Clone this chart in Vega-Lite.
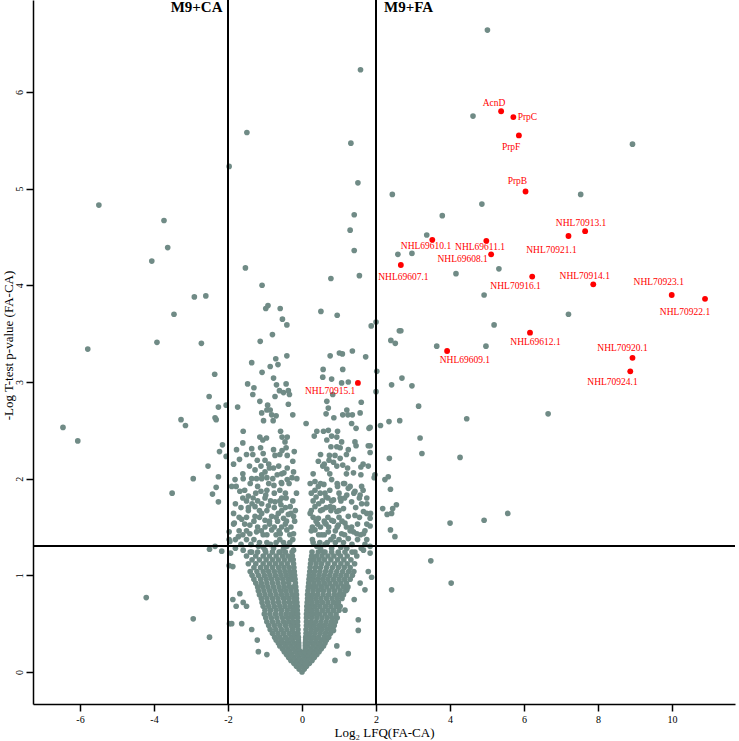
{
"$schema":"https://vega.github.io/schema/vega-lite/v6.json",
"width":702,"height":704,
"autosize":{"type":"none"},
"padding":{"left":33,"top":0,"right":4,"bottom":37},
"background":"white",
"config":{"view":{"stroke":null},
"axis":{"grid":false,"domainColor":"black","domainWidth":1.5,"tickColor":"black","tickWidth":1.5,"tickSize":7,"labelFont":"Liberation Serif","labelFontSize":10,"labelColor":"black","titleFont":"Liberation Serif","titleFontSize":13,"titleFontWeight":"normal","titleColor":"black"}},
"data":{"values":[
{"x":-5.49,"y":4.83},{"x":-3.73,"y":4.67},{"x":-3.63,"y":4.39},{"x":-4.06,"y":4.25},{"x":-2.91,"y":3.88},{"x":-2.6,"y":3.89},{"x":-3.46,"y":3.7},{"x":-5.79,"y":3.34},{"x":-3.92,"y":3.41},{"x":-2.72,"y":3.4},{"x":-2.36,"y":3.08},{"x":-2.51,"y":2.85},{"x":-2.26,"y":2.74},{"x":-2.05,"y":2.76},{"x":-3.27,"y":2.61},{"x":-3.15,"y":2.55},{"x":-2.35,"y":2.63},{"x":-2.32,"y":2.61},{"x":-6.46,"y":2.53},{"x":-6.06,"y":2.39},{"x":-2.15,"y":2.35},{"x":-2.23,"y":2.28},{"x":-2.05,"y":2.23},{"x":-2.54,"y":2.13},{"x":-2.94,"y":2.0},{"x":-2.26,"y":2.02},{"x":-2.32,"y":1.91},{"x":-2.42,"y":1.84},{"x":-3.51,"y":1.85},{"x":-2.26,"y":1.76},{"x":-2.35,"y":1.3},{"x":-2.5,"y":1.27},{"x":-2.17,"y":1.25},{"x":-4.21,"y":0.77},{"x":-2.94,"y":0.55},{"x":-2.5,"y":0.36},{"x":-1.97,"y":5.23},{"x":-1.97,"y":1.45},{"x":-1.97,"y":1.37},{"x":-1.97,"y":1.1},{"x":-1.96,"y":0.5},
{"x":1.58,"y":6.23},{"x":-1.49,"y":5.58},{"x":1.32,"y":5.47},{"x":1.51,"y":5.06},{"x":2.44,"y":4.94},{"x":1.41,"y":4.73},{"x":1.3,"y":4.57},{"x":1.41,"y":4.36},{"x":2.59,"y":4.32},{"x":-1.53,"y":4.18},{"x":1.55,"y":4.1},{"x":0.78,"y":4.07},{"x":-1.08,"y":4.0},{"x":-0.98,"y":3.76},{"x":-0.92,"y":3.79},{"x":-0.59,"y":3.76},{"x":-0.53,"y":3.65},{"x":-0.41,"y":3.59},{"x":0.51,"y":3.73},{"x":0.95,"y":3.69},{"x":2.0,"y":3.62},{"x":1.87,"y":3.58},{"x":-0.8,"y":3.49},{"x":-1.13,"y":3.42},{"x":2.4,"y":3.43},{"x":2.52,"y":3.4},{"x":2.63,"y":3.53},{"x":-1.36,"y":3.2},{"x":-0.71,"y":3.24},{"x":-0.65,"y":3.18},{"x":-0.86,"y":3.16},{"x":-0.41,"y":3.27},{"x":0.76,"y":3.27},{"x":1.01,"y":3.3},{"x":1.09,"y":3.29},{"x":1.36,"y":3.32},{"x":1.72,"y":3.26},{"x":0.57,"y":3.13},{"x":1.1,"y":3.13},
{"x":5.01,"y":6.64},{"x":4.62,"y":5.75},{"x":8.93,"y":5.46},{"x":7.53,"y":4.94},{"x":4.86,"y":4.84},{"x":3.79,"y":4.72},{"x":3.37,"y":4.52},
{"x":2.97,"y":4.33},{"x":4.16,"y":4.12},{"x":5.32,"y":4.17},{"x":4.92,"y":3.9},{"x":7.2,"y":3.7},{"x":2.67,"y":3.53},{"x":5.19,"y":3.59},{"x":3.64,"y":3.37},{"x":4.97,"y":3.37},
{"x":2.02,"y":3.11},{"x":2.7,"y":3.04},{"x":2.42,"y":2.97},{"x":2.97,"y":2.96},{"x":2.0,"y":2.9},{"x":3.15,"y":2.75},{"x":6.65,"y":2.67},{"x":4.45,"y":2.62},{"x":2.64,"y":2.6},{"x":2.12,"y":2.55},{"x":3.19,"y":2.42},{"x":3.24,"y":2.26},{"x":4.27,"y":2.22},{"x":2.36,"y":2.21},{"x":1.97,"y":2.04},{"x":1.95,"y":2.01},{"x":2.24,"y":1.99},{"x":2.33,"y":2.02},{"x":2.39,"y":1.89},{"x":2.18,"y":1.69},{"x":2.45,"y":1.69},{"x":2.55,"y":1.73},{"x":2.3,"y":1.63},{"x":2.42,"y":1.64},{"x":2.39,"y":1.47},{"x":2.51,"y":1.4},{"x":4.0,"y":1.54},{"x":4.92,"y":1.57},{"x":5.56,"y":1.64},{"x":3.48,"y":1.15},{"x":4.03,"y":0.92},{"x":2.42,"y":0.85},{"x":1.88,"y":0.98},{"x":1.84,"y":1.23},{"x":1.84,"y":1.59},{"x":1.84,"y":2.53},{"x":1.84,"y":2.34},{"x":1.84,"y":2.27},{"x":2.35,"y":2.59},
{"x":-1.47,"y":2.98},{"x":-1.3,"y":2.94},{"x":-1.08,"y":3.1},{"x":-0.77,"y":3.04},{"x":-1.33,"y":2.87},{"x":-1.74,"y":2.74},{"x":-0.69,"y":2.97},{"x":-0.61,"y":2.91},{"x":-0.43,"y":2.98},{"x":-0.37,"y":2.91},{"x":-0.34,"y":2.87},{"x":-0.5,"y":2.89},{"x":-0.73,"y":2.85},{"x":-1.14,"y":2.8},{"x":-0.37,"y":2.77},{"x":-0.93,"y":2.76},{"x":-0.95,"y":2.71},{"x":-0.86,"y":2.71},{"x":-0.82,"y":2.66},{"x":-1.09,"y":2.68},{"x":-1.04,"y":2.6},{"x":-0.78,"y":2.6},{"x":-0.7,"y":2.65},{"x":-0.25,"y":2.66},{"x":0.11,"y":2.57},{"x":0.56,"y":3.05},{"x":0.8,"y":3.03},{"x":0.83,"y":2.87},{"x":1.07,"y":2.99},{"x":1.25,"y":3.0},{"x":1.6,"y":2.79},{"x":1.21,"y":2.71},{"x":1.36,"y":2.66},{"x":1.24,"y":2.66},{"x":1.1,"y":2.66},{"x":0.67,"y":2.8},{"x":0.71,"y":2.73},{"x":0.86,"y":2.63},{"x":0.65,"y":2.67},{"x":1.57,"y":2.68},{"x":1.81,"y":2.52},{"x":1.34,"y":2.57},{"x":1.46,"y":2.52},
{"x":-1.59,"y":2.49},{"x":-1.14,"y":2.43},{"x":-1.06,"y":2.4},{"x":-0.96,"y":2.42},{"x":-0.58,"y":2.49},{"x":-0.54,"y":2.43},{"x":-0.4,"y":2.43},{"x":-0.46,"y":2.38},{"x":-1.6,"y":2.37},{"x":-1.77,"y":2.3},{"x":-1.36,"y":2.31},{"x":-1.33,"y":2.25},{"x":-1.12,"y":2.32},{"x":-1.05,"y":2.26},{"x":-0.77,"y":2.3},{"x":-0.73,"y":2.24},{"x":-0.54,"y":2.29},{"x":-0.43,"y":2.32},{"x":-0.4,"y":2.24},{"x":-0.21,"y":2.28},
{"x":0.4,"y":2.49},{"x":0.58,"y":2.49},{"x":0.71,"y":2.5},{"x":0.8,"y":2.44},{"x":0.96,"y":2.49},{"x":0.94,"y":2.43},{"x":0.67,"y":2.4},{"x":0.78,"y":2.33},{"x":0.94,"y":2.33},{"x":1.07,"y":2.38},{"x":1.03,"y":2.32},{"x":1.43,"y":2.38},{"x":1.46,"y":2.34},{"x":1.79,"y":2.34},{"x":0.33,"y":2.44},{"x":1.25,"y":2.3},
{"x":-1.69,"y":2.2},{"x":-1.21,"y":2.19},{"x":-1.11,"y":2.13},{"x":-1.0,"y":2.19},{"x":-0.77,"y":2.11},{"x":-0.63,"y":2.13},{"x":-0.49,"y":2.06},{"x":-0.4,"y":2.11},{"x":-0.25,"y":2.18},{"x":-1.42,"y":2.13},{"x":-1.27,"y":2.09},{"x":-1.09,"y":2.04},{"x":-1.0,"y":2.07},{"x":-0.88,"y":2.11},{"x":-0.67,"y":2.04},{"x":-0.23,"y":2.07},{"x":-0.14,"y":2.0},
{"x":0.74,"y":2.24},{"x":0.89,"y":2.24},{"x":0.73,"y":2.19},{"x":0.85,"y":2.17},{"x":1.03,"y":2.21},{"x":1.1,"y":2.14},{"x":0.94,"y":2.13},{"x":1.23,"y":2.11},{"x":0.44,"y":2.18},{"x":0.56,"y":2.13},{"x":0.67,"y":2.1},{"x":1.39,"y":2.2},{"x":1.59,"y":2.12},{"x":1.59,"y":2.04},{"x":1.39,"y":2.06},{"x":1.79,"y":2.13},
{"x":-1.81,"y":1.99},{"x":-1.78,"y":1.92},{"x":-1.59,"y":2.0},{"x":-1.36,"y":2.0},{"x":-1.23,"y":2.0},{"x":-1.09,"y":2.0},{"x":-0.95,"y":2.01},{"x":-0.79,"y":2.0},{"x":-0.76,"y":1.93},{"x":-0.56,"y":1.96},{"x":-0.4,"y":1.99},{"x":-0.27,"y":2.01},
{"x":-1.68,"y":1.87},{"x":-1.45,"y":1.82},{"x":-1.32,"y":1.8},{"x":-1.11,"y":1.87},{"x":-0.98,"y":1.83},{"x":-1.27,"y":1.71},{"x":-1.09,"y":1.74},{"x":-0.91,"y":1.72},{"x":-0.73,"y":1.76},{"x":-0.57,"y":1.73},{"x":-0.43,"y":1.8},{"x":-0.32,"y":1.71},
{"x":0.35,"y":1.97},{"x":0.44,"y":1.92},{"x":0.59,"y":1.94},{"x":0.8,"y":1.99},{"x":0.96,"y":1.92},{"x":1.12,"y":1.95},{"x":1.25,"y":1.9},{"x":1.43,"y":1.87},{"x":1.61,"y":1.92},{"x":1.75,"y":1.8},{"x":1.57,"y":1.83},{"x":1.21,"y":1.83},{"x":1.03,"y":1.8},{"x":0.85,"y":1.78},{"x":0.65,"y":1.81},{"x":0.49,"y":1.85},{"x":0.38,"y":1.81},{"x":1.34,"y":1.76},{"x":1.61,"y":1.74},{"x":1.75,"y":1.64},
{"x":-1.09,"y":1.64},{"x":-1.27,"y":1.61},{"x":-1.0,"y":1.57},{"x":-0.82,"y":1.61},{"x":-0.64,"y":1.64},{"x":-0.5,"y":1.59},{"x":-0.37,"y":1.63},{"x":-0.23,"y":1.61},{"x":-1.83,"y":1.54},{"x":-1.63,"y":1.58},{"x":-1.41,"y":1.52},
{"x":0.35,"y":1.71},{"x":0.56,"y":1.68},{"x":0.76,"y":1.71},{"x":0.94,"y":1.66},{"x":1.12,"y":1.69},{"x":1.25,"y":1.61},{"x":1.43,"y":1.62},{"x":1.66,"y":1.66},{"x":0.44,"y":1.59},{"x":0.62,"y":1.54},{"x":0.8,"y":1.57},{"x":0.98,"y":1.52},{"x":1.16,"y":1.54},{"x":1.34,"y":1.5},{"x":1.66,"y":1.43},{"x":1.84,"y":1.51},{"x":1.48,"y":1.43},
{"x":-1.72,"y":1.4},{"x":-1.41,"y":1.43},{"x":-1.23,"y":1.45},{"x":-1.05,"y":1.42},{"x":-0.82,"y":1.47},{"x":-0.59,"y":1.43},{"x":-0.41,"y":1.47},{"x":-0.23,"y":1.43},{"x":-1.95,"y":1.35},{"x":-1.93,"y":1.23},
{"x":0.35,"y":1.47},{"x":0.53,"y":1.42},{"x":0.71,"y":1.45},{"x":0.85,"y":1.4},{"x":1.07,"y":1.43},{"x":1.25,"y":1.38},{"x":1.39,"y":1.45},
{"x":-1.59,"y":1.26},{"x":-1.36,"y":1.24},{"x":-1.18,"y":1.3},{"x":-1.0,"y":1.26},{"x":-0.77,"y":1.28},{"x":-0.59,"y":1.24},{"x":-0.41,"y":1.3},{"x":-0.23,"y":1.26},{"x":0.4,"y":1.3},{"x":0.58,"y":1.24},{"x":0.8,"y":1.28},{"x":0.98,"y":1.23},{"x":1.21,"y":1.28},{"x":1.43,"y":1.24},{"x":1.66,"y":1.26},{"x":1.84,"y":1.3},
{"x":-1.15,"y":1.34},{"x":-0.95,"y":1.34},{"x":-0.7,"y":1.34},{"x":-0.5,"y":1.34},{"x":-0.33,"y":1.34},{"x":0.3,"y":1.34},{"x":0.48,"y":1.34},{"x":0.68,"y":1.34},{"x":0.9,"y":1.34},{"x":1.12,"y":1.34},
{"x":-1.2,"y":1.5},{"x":-1.0,"y":1.5},{"x":-0.75,"y":1.5},{"x":-0.55,"y":1.5},{"x":-0.3,"y":1.5},{"x":0.28,"y":1.5},{"x":0.5,"y":1.5},{"x":0.72,"y":1.5},{"x":0.95,"y":1.5},{"x":1.2,"y":1.5},
{"x":-1.3,"y":1.56},{"x":-0.88,"y":1.56},{"x":-0.66,"y":1.56},{"x":-0.42,"y":1.56},{"x":-0.2,"y":1.56},{"x":0.38,"y":1.56},{"x":0.6,"y":1.56},{"x":0.85,"y":1.56},{"x":1.08,"y":1.56},
{"x":-1.45,"y":1.67},{"x":-1.15,"y":1.67},{"x":-0.95,"y":1.67},{"x":-0.55,"y":1.67},{"x":-0.18,"y":1.67},{"x":0.25,"y":1.67},{"x":0.5,"y":1.67},{"x":0.78,"y":1.67},{"x":1.0,"y":1.67},
{"x":-1.5,"y":1.77},{"x":-1.2,"y":1.77},{"x":-0.85,"y":1.77},{"x":-0.6,"y":1.77},{"x":-0.25,"y":1.77},{"x":0.3,"y":1.77},{"x":0.55,"y":1.77},{"x":0.8,"y":1.77},{"x":1.05,"y":1.77},
{"x":-1.25,"y":1.85},{"x":-0.75,"y":1.85},{"x":-0.45,"y":1.85},{"x":-0.15,"y":1.85},{"x":0.25,"y":1.85},{"x":0.62,"y":1.85},{"x":1.0,"y":1.85},{"x":1.4,"y":1.85},
{"x":-1.4,"y":1.95},{"x":-0.9,"y":1.95},{"x":-0.55,"y":1.95},{"x":-0.35,"y":1.95},{"x":0.22,"y":1.95},{"x":0.5,"y":1.95},{"x":0.95,"y":1.95},{"x":1.15,"y":1.95},
{"x":-1.8,"y":1.28},{"x":-1.05,"y":1.29},{"x":-0.5,"y":1.28},{"x":0.5,"y":1.28},{"x":1.05,"y":1.29},{"x":1.6,"y":1.28},
{"x":-1.65,"y":1.32},{"x":-1.38,"y":1.32},{"x":-0.85,"y":1.32},{"x":0.62,"y":1.32},{"x":1.35,"y":1.32},{"x":1.7,"y":1.32},
{"x":-1.8,"y":1.37},{"x":-1.5,"y":1.37},{"x":-1.3,"y":1.37},{"x":-0.6,"y":1.37},{"x":-0.25,"y":1.37},{"x":0.28,"y":1.37},{"x":0.78,"y":1.37},{"x":1.0,"y":1.37},{"x":1.5,"y":1.37},{"x":1.75,"y":1.37},
{"x":-1.6,"y":1.42},{"x":-0.95,"y":1.42},{"x":-0.7,"y":1.42},{"x":-0.33,"y":1.42},{"x":0.45,"y":1.42},{"x":0.6,"y":1.42},{"x":1.15,"y":1.42},{"x":1.58,"y":1.42},
{"x":-1.7,"y":1.46},{"x":-1.5,"y":1.46},{"x":-1.1,"y":1.46},{"x":-0.62,"y":1.46},{"x":0.25,"y":1.46},{"x":0.9,"y":1.46},{"x":1.3,"y":1.46},{"x":1.7,"y":1.46},
{"x":-1.85,"y":1.53},{"x":-1.55,"y":1.53},{"x":-0.88,"y":1.53},{"x":-0.45,"y":1.53},{"x":0.42,"y":1.53},{"x":0.65,"y":1.53},{"x":1.5,"y":1.53},{"x":1.75,"y":1.53},
{"x":-1.7,"y":1.6},{"x":-1.5,"y":1.6},{"x":-1.15,"y":1.6},{"x":-0.7,"y":1.6},{"x":0.3,"y":1.6},{"x":0.7,"y":1.6},{"x":1.0,"y":1.6},{"x":1.55,"y":1.6},
{"x":-1.85,"y":1.64},{"x":-0.3,"y":1.64},{"x":0.22,"y":1.64},{"x":1.85,"y":1.64},
{"x":-1.65,"y":1.7},{"x":-1.45,"y":1.7},{"x":-0.75,"y":1.7},{"x":-0.45,"y":1.7},{"x":0.65,"y":1.7},{"x":0.85,"y":1.7},{"x":1.45,"y":1.7},
{"x":-1.8,"y":1.74},{"x":-1.35,"y":1.74},{"x":0.45,"y":1.74},{"x":1.75,"y":1.74},
{"x":-1.6,"y":1.8},{"x":-1.0,"y":1.8},{"x":-0.55,"y":1.8},{"x":0.7,"y":1.8},{"x":1.15,"y":1.8},{"x":1.55,"y":1.8},
{"x":-1.55,"y":1.88},{"x":-0.95,"y":1.88},{"x":-0.6,"y":1.88},{"x":0.35,"y":1.88},{"x":0.75,"y":1.88},{"x":1.65,"y":1.88},
{"x":-1.9,"y":1.92},{"x":-1.2,"y":1.92},{"x":1.3,"y":1.92},
{"x":-1.6,"y":2.05},{"x":-0.55,"y":2.05},{"x":0.3,"y":2.05},{"x":0.75,"y":2.05},{"x":1.2,"y":2.05},
{"x":-1.85,"y":2.15},{"x":-0.9,"y":2.15},{"x":0.6,"y":2.15},{"x":1.65,"y":2.15},
{"x":-1.5,"y":2.25},{"x":-0.6,"y":2.25},{"x":0.5,"y":2.25},{"x":1.2,"y":2.25},
{"x":-1.9,"y":0.5},{"x":-1.63,"y":0.5},{"x":-1.36,"y":0.44},{"x":-1.21,"y":0.33},{"x":-1.18,"y":0.21},{"x":-0.95,"y":0.18},{"x":-1.87,"y":0.75},{"x":-1.78,"y":0.68},{"x":-1.68,"y":0.81},{"x":-1.59,"y":0.72},{"x":-1.5,"y":0.68},{"x":-1.87,"y":1.09},{"x":1.52,"y":0.54},{"x":1.52,"y":0.43},{"x":1.25,"y":0.19},{"x":0.89,"y":0.12},{"x":0.94,"y":0.27},{"x":1.41,"y":0.75},{"x":1.7,"y":0.85},{"x":1.79,"y":1.04},{"x":1.57,"y":0.92},{"x":1.21,"y":0.85},{"x":0.85,"y":0.43},{"x":1.16,"y":0.64},
{"x":0.0,"y":0.0},
{"x":-0.08,"y":0.03},{"x":0.06,"y":0.03},
{"x":-0.15,"y":0.06},{"x":-0.02,"y":0.06},{"x":0.12,"y":0.06},
{"x":-0.22,"y":0.09},{"x":-0.08,"y":0.09},{"x":0.07,"y":0.09},{"x":0.2,"y":0.09},
{"x":-0.3,"y":0.12},{"x":-0.16,"y":0.12},{"x":-0.02,"y":0.12},{"x":0.13,"y":0.12},{"x":0.27,"y":0.12},
{"x":-0.36,"y":0.15},{"x":-0.22,"y":0.15},{"x":-0.08,"y":0.15},{"x":0.06,"y":0.15},{"x":0.2,"y":0.15},{"x":0.33,"y":0.15},
{"x":-0.42,"y":0.18},{"x":-0.28,"y":0.18},{"x":-0.13,"y":0.18},{"x":0.02,"y":0.18},{"x":0.15,"y":0.18},{"x":0.28,"y":0.18},{"x":0.4,"y":0.18},
{"x":-0.48,"y":0.21},{"x":-0.33,"y":0.21},{"x":-0.18,"y":0.21},{"x":-0.05,"y":0.21},{"x":0.07,"y":0.21},{"x":0.2,"y":0.21},{"x":0.33,"y":0.21},{"x":0.46,"y":0.21},
{"x":-0.53,"y":0.24},{"x":-0.38,"y":0.24},{"x":-0.24,"y":0.24},{"x":-0.09,"y":0.24},{"x":0.09,"y":0.24},{"x":0.24,"y":0.24},{"x":0.38,"y":0.24},{"x":0.52,"y":0.24},
{"x":-0.6,"y":0.27},{"x":-0.45,"y":0.27},{"x":-0.3,"y":0.27},{"x":-0.16,"y":0.27},{"x":-0.09,"y":0.27},{"x":0.09,"y":0.27},{"x":0.15,"y":0.27},{"x":0.3,"y":0.27},{"x":0.44,"y":0.27},{"x":0.58,"y":0.27},
{"x":-0.64,"y":0.3},{"x":-0.5,"y":0.3},{"x":-0.36,"y":0.3},{"x":-0.22,"y":0.3},{"x":-0.09,"y":0.3},{"x":0.09,"y":0.3},{"x":0.2,"y":0.3},{"x":0.34,"y":0.3},{"x":0.48,"y":0.3},{"x":0.62,"y":0.3},
{"x":-0.7,"y":0.33},{"x":-0.55,"y":0.33},{"x":-0.4,"y":0.33},{"x":-0.25,"y":0.33},{"x":-0.1,"y":0.33},{"x":0.1,"y":0.33},{"x":0.24,"y":0.33},{"x":0.38,"y":0.33},{"x":0.52,"y":0.33},{"x":0.66,"y":0.33},
{"x":-0.74,"y":0.36},{"x":-0.6,"y":0.36},{"x":-0.45,"y":0.36},{"x":-0.3,"y":0.36},{"x":-0.17,"y":0.36},{"x":-0.1,"y":0.36},{"x":0.1,"y":0.36},{"x":0.18,"y":0.36},{"x":0.31,"y":0.36},{"x":0.45,"y":0.36},{"x":0.6,"y":0.36},{"x":0.72,"y":0.36},
{"x":-0.8,"y":0.4},{"x":-0.65,"y":0.4},{"x":-0.5,"y":0.4},{"x":-0.35,"y":0.4},{"x":-0.22,"y":0.4},{"x":-0.11,"y":0.4},{"x":0.11,"y":0.4},{"x":0.22,"y":0.4},{"x":0.35,"y":0.4},{"x":0.49,"y":0.4},{"x":0.63,"y":0.4},{"x":0.77,"y":0.4},
{"x":-0.86,"y":0.44},{"x":-0.71,"y":0.44},{"x":-0.56,"y":0.44},{"x":-0.41,"y":0.44},{"x":-0.26,"y":0.44},{"x":-0.11,"y":0.44},{"x":0.11,"y":0.44},{"x":0.25,"y":0.44},{"x":0.39,"y":0.44},{"x":0.53,"y":0.44},{"x":0.67,"y":0.44},{"x":0.8,"y":0.44},
{"x":-0.9,"y":0.48},{"x":-0.75,"y":0.48},{"x":-0.6,"y":0.48},{"x":-0.45,"y":0.48},{"x":-0.3,"y":0.48},{"x":-0.18,"y":0.48},{"x":-0.12,"y":0.48},{"x":0.12,"y":0.48},{"x":0.2,"y":0.48},{"x":0.33,"y":0.48},{"x":0.47,"y":0.48},{"x":0.61,"y":0.48},{"x":0.75,"y":0.48},{"x":0.87,"y":0.48},
{"x":-0.95,"y":0.52},{"x":-0.8,"y":0.52},{"x":-0.65,"y":0.52},{"x":-0.5,"y":0.52},{"x":-0.36,"y":0.52},{"x":-0.23,"y":0.52},{"x":-0.12,"y":0.52},{"x":0.12,"y":0.52},{"x":0.24,"y":0.52},{"x":0.37,"y":0.52},{"x":0.51,"y":0.52},{"x":0.65,"y":0.52},{"x":0.79,"y":0.52},{"x":0.9,"y":0.52},
{"x":-0.98,"y":0.56},{"x":-0.83,"y":0.56},{"x":-0.68,"y":0.56},{"x":-0.53,"y":0.56},{"x":-0.39,"y":0.56},{"x":-0.26,"y":0.56},{"x":-0.12,"y":0.56},{"x":0.12,"y":0.56},{"x":0.26,"y":0.56},{"x":0.4,"y":0.56},{"x":0.54,"y":0.56},{"x":0.68,"y":0.56},{"x":0.82,"y":0.56},{"x":0.95,"y":0.56},
{"x":-1.02,"y":0.6},{"x":-0.87,"y":0.6},{"x":-0.72,"y":0.6},{"x":-0.57,"y":0.6},{"x":-0.43,"y":0.6},{"x":-0.3,"y":0.6},{"x":-0.19,"y":0.6},{"x":-0.12,"y":0.6},{"x":0.12,"y":0.6},{"x":0.2,"y":0.6},{"x":0.33,"y":0.6},{"x":0.47,"y":0.6},{"x":0.62,"y":0.6},{"x":0.77,"y":0.6},{"x":0.92,"y":0.6},
{"x":-1.0,"y":0.64},{"x":-0.85,"y":0.64},{"x":-0.7,"y":0.64},{"x":-0.55,"y":0.64},{"x":-0.4,"y":0.64},{"x":-0.25,"y":0.64},{"x":-0.13,"y":0.64},{"x":0.13,"y":0.64},{"x":0.26,"y":0.64},{"x":0.4,"y":0.64},{"x":0.55,"y":0.64},{"x":0.7,"y":0.64},{"x":0.85,"y":0.64},{"x":1.0,"y":0.64},
{"x":-1.05,"y":0.68},{"x":-0.9,"y":0.68},{"x":-0.75,"y":0.68},{"x":-0.6,"y":0.68},{"x":-0.46,"y":0.68},{"x":-0.32,"y":0.68},{"x":-0.2,"y":0.68},{"x":-0.13,"y":0.68},{"x":0.13,"y":0.68},{"x":0.21,"y":0.68},{"x":0.34,"y":0.68},{"x":0.48,"y":0.68},{"x":0.63,"y":0.68},{"x":0.78,"y":0.68},{"x":0.93,"y":0.68},{"x":1.03,"y":0.68},
{"x":-1.08,"y":0.72},{"x":-0.93,"y":0.72},{"x":-0.78,"y":0.72},{"x":-0.63,"y":0.72},{"x":-0.48,"y":0.72},{"x":-0.34,"y":0.72},{"x":-0.2,"y":0.72},{"x":-0.14,"y":0.72},{"x":0.14,"y":0.72},{"x":0.27,"y":0.72},{"x":0.41,"y":0.72},{"x":0.55,"y":0.72},{"x":0.7,"y":0.72},{"x":0.85,"y":0.72},{"x":0.98,"y":0.72},
{"x":-1.1,"y":0.76},{"x":-0.95,"y":0.76},{"x":-0.8,"y":0.76},{"x":-0.65,"y":0.76},{"x":-0.5,"y":0.76},{"x":-0.36,"y":0.76},{"x":-0.22,"y":0.76},{"x":-0.15,"y":0.76},{"x":0.15,"y":0.76},{"x":0.23,"y":0.76},{"x":0.37,"y":0.76},{"x":0.51,"y":0.76},{"x":0.66,"y":0.76},{"x":0.81,"y":0.76},{"x":0.95,"y":0.76},{"x":1.08,"y":0.76},
{"x":-1.15,"y":0.8},{"x":-1.0,"y":0.8},{"x":-0.85,"y":0.8},{"x":-0.7,"y":0.8},{"x":-0.55,"y":0.8},{"x":-0.41,"y":0.8},{"x":-0.27,"y":0.8},{"x":-0.15,"y":0.8},{"x":0.15,"y":0.8},{"x":0.28,"y":0.8},{"x":0.42,"y":0.8},{"x":0.57,"y":0.8},{"x":0.72,"y":0.8},{"x":0.87,"y":0.8},{"x":1.0,"y":0.8},{"x":1.12,"y":0.8},
{"x":-1.18,"y":0.84},{"x":-1.03,"y":0.84},{"x":-0.88,"y":0.84},{"x":-0.73,"y":0.84},{"x":-0.58,"y":0.84},{"x":-0.44,"y":0.84},{"x":-0.3,"y":0.84},{"x":-0.16,"y":0.84},{"x":0.16,"y":0.84},{"x":0.3,"y":0.84},{"x":0.44,"y":0.84},{"x":0.58,"y":0.84},{"x":0.73,"y":0.84},{"x":0.88,"y":0.84},{"x":1.03,"y":0.84},{"x":1.18,"y":0.84},
{"x":-1.2,"y":0.88},{"x":-1.06,"y":0.88},{"x":-0.92,"y":0.88},{"x":-0.77,"y":0.88},{"x":-0.62,"y":0.88},{"x":-0.48,"y":0.88},{"x":-0.34,"y":0.88},{"x":-0.23,"y":0.88},{"x":-0.17,"y":0.88},{"x":0.17,"y":0.88},{"x":0.25,"y":0.88},{"x":0.38,"y":0.88},{"x":0.52,"y":0.88},{"x":0.67,"y":0.88},{"x":0.82,"y":0.88},{"x":0.97,"y":0.88},{"x":1.12,"y":0.88},{"x":1.24,"y":0.88},
{"x":-1.25,"y":0.92},{"x":-1.1,"y":0.92},{"x":-0.95,"y":0.92},{"x":-0.8,"y":0.92},{"x":-0.65,"y":0.92},{"x":-0.5,"y":0.92},{"x":-0.36,"y":0.92},{"x":-0.18,"y":0.92},{"x":0.18,"y":0.92},{"x":0.32,"y":0.92},{"x":0.46,"y":0.92},{"x":0.6,"y":0.92},{"x":0.75,"y":0.92},{"x":0.9,"y":0.92},{"x":1.05,"y":0.92},{"x":1.2,"y":0.92},
{"x":-1.3,"y":0.96},{"x":-1.12,"y":0.96},{"x":-0.97,"y":0.96},{"x":-0.82,"y":0.96},{"x":-0.67,"y":0.96},{"x":-0.52,"y":0.96},{"x":-0.38,"y":0.96},{"x":-0.26,"y":0.96},{"x":-0.19,"y":0.96},{"x":0.19,"y":0.96},{"x":0.28,"y":0.96},{"x":0.42,"y":0.96},{"x":0.56,"y":0.96},{"x":0.7,"y":0.96},{"x":0.85,"y":0.96},{"x":1.0,"y":0.96},{"x":1.15,"y":0.96},{"x":1.3,"y":0.96},
{"x":-1.35,"y":1.0},{"x":-1.18,"y":1.0},{"x":-1.02,"y":1.0},{"x":-0.87,"y":1.0},{"x":-0.72,"y":1.0},{"x":-0.57,"y":1.0},{"x":-0.43,"y":1.0},{"x":-0.3,"y":1.0},{"x":-0.2,"y":1.0},{"x":0.2,"y":1.0},{"x":0.32,"y":1.0},{"x":0.46,"y":1.0},{"x":0.6,"y":1.0},{"x":0.75,"y":1.0},{"x":0.9,"y":1.0},{"x":1.05,"y":1.0},{"x":1.2,"y":1.0},{"x":1.36,"y":1.0},
{"x":-1.4,"y":1.04},{"x":-1.22,"y":1.04},{"x":-1.05,"y":1.04},{"x":-0.9,"y":1.04},{"x":-0.75,"y":1.04},{"x":-0.6,"y":1.04},{"x":-0.46,"y":1.04},{"x":-0.33,"y":1.04},{"x":-0.21,"y":1.04},{"x":0.21,"y":1.04},{"x":0.34,"y":1.04},{"x":0.48,"y":1.04},{"x":0.63,"y":1.04},{"x":0.78,"y":1.04},{"x":0.94,"y":1.04},{"x":1.1,"y":1.04},{"x":1.26,"y":1.04},{"x":1.4,"y":1.04},
{"x":-1.3,"y":1.08},{"x":-1.12,"y":1.08},{"x":-0.96,"y":1.08},{"x":-0.8,"y":1.08},{"x":-0.64,"y":1.08},{"x":-0.49,"y":1.08},{"x":-0.35,"y":1.08},{"x":-0.22,"y":1.08},{"x":0.22,"y":1.08},{"x":0.36,"y":1.08},{"x":0.5,"y":1.08},{"x":0.66,"y":1.08},{"x":0.82,"y":1.08},{"x":0.98,"y":1.08},{"x":1.14,"y":1.08},{"x":1.3,"y":1.08},
{"x":-1.45,"y":1.12},{"x":-1.25,"y":1.12},{"x":-1.05,"y":1.12},{"x":-0.88,"y":1.12},{"x":-0.72,"y":1.12},{"x":-0.56,"y":1.12},{"x":-0.4,"y":1.12},{"x":-0.23,"y":1.12},{"x":0.23,"y":1.12},{"x":0.38,"y":1.12},{"x":0.53,"y":1.12},{"x":0.7,"y":1.12},{"x":0.88,"y":1.12},{"x":1.05,"y":1.12},{"x":1.22,"y":1.12},{"x":1.42,"y":1.12},
{"x":-1.35,"y":1.16},{"x":-1.15,"y":1.16},{"x":-0.97,"y":1.16},{"x":-0.8,"y":1.16},{"x":-0.64,"y":1.16},{"x":-0.48,"y":1.16},{"x":-0.32,"y":1.16},{"x":-0.24,"y":1.16},{"x":0.24,"y":1.16},{"x":0.32,"y":1.16},{"x":0.46,"y":1.16},{"x":0.61,"y":1.16},{"x":0.78,"y":1.16},{"x":0.96,"y":1.16},{"x":1.13,"y":1.16},{"x":1.32,"y":1.16},
{"x":-1.5,"y":1.2},{"x":-1.25,"y":1.2},{"x":-1.05,"y":1.2},{"x":-0.88,"y":1.2},{"x":-0.7,"y":1.2},{"x":-0.53,"y":1.2},{"x":-0.38,"y":1.2},{"x":-0.26,"y":1.2},{"x":0.26,"y":1.2},{"x":0.39,"y":1.2},{"x":0.54,"y":1.2},{"x":0.7,"y":1.2},{"x":0.86,"y":1.2},{"x":1.04,"y":1.2},{"x":1.22,"y":1.2},{"x":1.48,"y":1.2},
{"x":-1.4,"y":1.24},{"x":-1.2,"y":1.24},{"x":-0.98,"y":1.24},{"x":-0.8,"y":1.24},{"x":-0.62,"y":1.24},{"x":-0.45,"y":1.24},{"x":-0.27,"y":1.24},{"x":0.27,"y":1.24},{"x":0.44,"y":1.24},{"x":0.62,"y":1.24},{"x":0.8,"y":1.24},{"x":0.98,"y":1.24},{"x":1.16,"y":1.24},{"x":1.35,"y":1.24},
{"x":5.38,"y":5.8,"label":"AcnD","lx":5.19,"ly":5.89},
{"x":5.71,"y":5.74,"label":"PrpC","lx":6.09,"ly":5.74},
{"x":5.86,"y":5.55,"label":"PrpF","lx":5.65,"ly":5.43},
{"x":6.04,"y":4.97,"label":"PrpB","lx":5.82,"ly":5.08},
{"x":7.65,"y":4.56,"label":"NHL70913.1","lx":7.54,"ly":4.64},
{"x":3.52,"y":4.47,"label":"NHL69610.1","lx":3.35,"ly":4.41},
{"x":4.98,"y":4.46,"label":"NHL69611.1","lx":4.81,"ly":4.4},
{"x":7.2,"y":4.51,"label":"NHL70921.1","lx":6.74,"ly":4.36},
{"x":5.11,"y":4.32,"label":"NHL69608.1","lx":4.34,"ly":4.27},
{"x":2.67,"y":4.21,"label":"NHL69607.1","lx":2.74,"ly":4.09},
{"x":6.22,"y":4.09,"label":"NHL70916.1","lx":5.77,"ly":3.99},
{"x":7.87,"y":4.01,"label":"NHL70914.1","lx":7.64,"ly":4.1},
{"x":9.99,"y":3.9,"label":"NHL70923.1","lx":9.64,"ly":4.03},
{"x":10.89,"y":3.86,"label":"NHL70922.1","lx":10.35,"ly":3.72},
{"x":6.16,"y":3.51,"label":"NHL69612.1","lx":6.31,"ly":3.41},
{"x":3.92,"y":3.32,"label":"NHL69609.1","lx":4.4,"ly":3.23},
{"x":8.93,"y":3.25,"label":"NHL70920.1","lx":8.66,"ly":3.35},
{"x":8.87,"y":3.11,"label":"NHL70924.1","lx":8.39,"ly":3.0},
{"x":1.51,"y":2.99,"label":"NHL70915.1","lx":0.76,"ly":2.91}
]},
"layer":[
{"transform":[{"filter":"!datum.label"}],
 "mark":{"type":"point","filled":true,"shape":"circle","size":32,"color":"#708b86","opacity":1},
 "encoding":{
  "x":{"field":"x","type":"quantitative","scale":{"domain":[-7.27,11.7],"nice":false,"zero":false},"axis":{"title":"Log₂ LFQ(FA-CA)","values":[-6,-4,-2,0,2,4,6,8,10],"labelExpr":"''+datum.value","labelPadding":3,"titlePadding":2}},
  "y":{"field":"y","type":"quantitative","scale":{"domain":[-0.331,6.951],"nice":false,"zero":false},"axis":{"title":"-Log T-test p-value (FA-CA)","values":[0,1,2,3,4,5,6],"labelExpr":"''+datum.value","labelAngle":-90,"labelAlign":"center","labelBaseline":"bottom","labelPadding":2,"titleX":-25,"titleY":345,"titleAngle":-90,"titleAlign":"center","titleBaseline":"middle"}}}},
{"transform":[{"filter":"datum.label"}],
 "mark":{"type":"point","filled":true,"shape":"circle","size":34,"color":"#ff0000","opacity":1},
 "encoding":{
  "x":{"field":"x","type":"quantitative","title":"Log₂ LFQ(FA-CA)"},
  "y":{"field":"y","type":"quantitative","title":"-Log T-test p-value (FA-CA)"}}},
{"transform":[{"filter":"datum.label"}],
 "mark":{"type":"text","font":"Liberation Serif","fontSize":9.5,"color":"#ff0000","align":"center","baseline":"middle"},
 "encoding":{
  "x":{"field":"lx","type":"quantitative","title":"Log₂ LFQ(FA-CA)"},
  "y":{"field":"ly","type":"quantitative","title":"-Log T-test p-value (FA-CA)"},
  "text":{"field":"label"}}},
{"mark":{"type":"rule","color":"black","strokeWidth":1.5},"encoding":{"x":{"datum":-2,"type":"quantitative"}}},
{"mark":{"type":"rule","color":"black","strokeWidth":1.5},"encoding":{"x":{"datum":2,"type":"quantitative"}}},
{"mark":{"type":"rule","color":"black","strokeWidth":1.5},"encoding":{"y":{"datum":1.3,"type":"quantitative"}}},
{"data":{"values":[{"gx":-2.85,"gy":6.88,"name":"M9+CA"},{"gx":2.88,"gy":6.88,"name":"M9+FA"}]},
 "mark":{"type":"text","font":"Liberation Serif","fontSize":15,"fontWeight":"bold","color":"black","align":"center","baseline":"middle"},
 "encoding":{
  "x":{"field":"gx","type":"quantitative","title":"Log₂ LFQ(FA-CA)"},
  "y":{"field":"gy","type":"quantitative","title":"-Log T-test p-value (FA-CA)"},
  "text":{"field":"name"}}}
]
}
